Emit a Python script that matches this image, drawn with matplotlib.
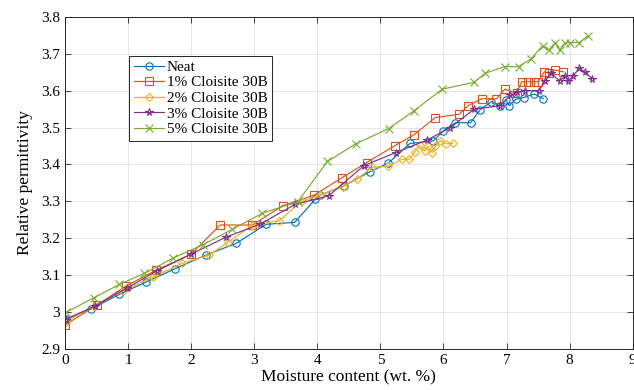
import matplotlib
matplotlib.use("Agg")
import matplotlib.pyplot as plt

plt.rcParams["font.family"] = ["Liberation Serif", "DejaVu Serif"]

# Neat
neat_x = [0.01, 0.42, 0.86, 1.29, 1.75, 2.24, 2.71, 3.19, 3.64, 3.97, 4.05, 4.42, 4.83,
          5.12, 5.47, 5.84, 5.99, 6.19, 6.43, 6.58, 6.76, 6.89, 6.99, 7.04, 7.15, 7.27,
          7.44, 7.58]
neat_y = [2.981, 3.009, 3.048, 3.082, 3.118, 3.155, 3.186, 3.238, 3.243, 3.306, 3.317,
          3.342, 3.380, 3.403, 3.457, 3.464, 3.490, 3.513, 3.513, 3.548, 3.570, 3.559,
          3.575, 3.559, 3.577, 3.581, 3.591, 3.578]

# 1% Cloisite 30B
c1_x = [0.0, 0.5, 0.97, 1.45, 2.0, 2.46, 2.97, 3.45, 3.95, 4.39, 4.78, 5.23, 5.53, 5.87,
        6.25, 6.39, 6.61, 6.84, 6.97, 7.16, 7.24, 7.34, 7.43, 7.50, 7.60, 7.67, 7.76,
        7.90]
c1_y = [2.965, 3.019, 3.071, 3.114, 3.157, 3.236, 3.236, 3.288, 3.317, 3.364, 3.405,
        3.451, 3.480, 3.527, 3.536, 3.559, 3.578, 3.578, 3.604, 3.593, 3.624, 3.624,
        3.624, 3.624, 3.651, 3.647, 3.656, 3.651]

# 2% Cloisite 30B
c2_x = [0.01, 0.46, 0.92, 1.40, 1.86, 2.29, 2.58, 2.96, 3.40, 3.75, 4.05, 4.40, 4.63,
        4.86, 5.12, 5.34, 5.46, 5.55, 5.62, 5.70, 5.76, 5.82, 5.87, 5.95, 6.04, 6.15]
c2_y = [2.974, 3.017, 3.057, 3.096, 3.132, 3.155, 3.189, 3.234, 3.248, 3.300, 3.317,
        3.340, 3.360, 3.392, 3.395, 3.414, 3.414, 3.435, 3.452, 3.436, 3.449, 3.432,
        3.449, 3.464, 3.456, 3.457]

# 3% Cloisite 30B
c3_x = [0.01, 0.48, 0.99, 1.46, 2.0, 2.55, 3.09, 3.65, 4.18, 4.74, 5.24, 5.74, 6.11,
        6.49, 6.90, 7.06, 7.16, 7.29, 7.51, 7.61, 7.71, 7.84, 7.93, 7.98, 8.06, 8.15,
        8.24, 8.36]
c3_y = [2.980, 3.017, 3.066, 3.112, 3.157, 3.203, 3.238, 3.292, 3.315, 3.397, 3.432,
        3.466, 3.500, 3.550, 3.559, 3.587, 3.595, 3.600, 3.600, 3.626, 3.647, 3.626,
        3.640, 3.626, 3.640, 3.661, 3.651, 3.632]

# 5% Cloisite 30B
c5_x = [0.01, 0.46, 0.86, 1.26, 1.72, 2.18, 2.65, 3.13, 3.69, 4.16, 4.61, 5.13, 5.53,
        5.98, 6.48, 6.66, 6.97, 7.19, 7.38, 7.57, 7.67, 7.77, 7.84, 7.93, 8.00, 8.15,
        8.29]
c5_y = [2.999, 3.039, 3.075, 3.105, 3.147, 3.182, 3.224, 3.268, 3.299, 3.408, 3.456,
        3.497, 3.545, 3.604, 3.622, 3.647, 3.665, 3.665, 3.685, 3.721, 3.710, 3.730,
        3.710, 3.730, 3.730, 3.730, 3.748]

series = [
    (neat_x, neat_y, "Neat", "#0072BD", "o"),
    (c1_x, c1_y, "1% Cloisite 30B", "#D95319", "s"),
    (c2_x, c2_y, "2% Cloisite 30B", "#EDB120", "D"),
    (c3_x, c3_y, "3% Cloisite 30B", "#7E2F8E", "*"),
    (c5_x, c5_y, "5% Cloisite 30B", "#77AC30", "x"),
]

fig = plt.figure(figsize=(6.34, 3.9), dpi=100)
ax = fig.add_axes([0.1025, 0.105, 0.8955, 0.852])

for x, y, label, color, marker in series:
    ms = 4.2 if marker == "D" else 5.3
    ax.plot(x, y, color=color, marker=marker, markersize=ms, linewidth=0.85,
            markerfacecolor="none", markeredgewidth=0.8, label=label)

ax.set_xlim(0, 9)
ax.set_ylim(2.9, 3.8)
ax.set_xticks(range(10))
ax.set_yticks([2.9, 3.0, 3.1, 3.2, 3.3, 3.4, 3.5, 3.6, 3.7, 3.8])
ax.set_yticklabels(["2.9", "3", "3.1", "3.2", "3.3", "3.4", "3.5", "3.6", "3.7", "3.8"])
ax.tick_params(direction="in", top=True, right=True, labelsize=11, color="#262626",
               length=4, width=0.6)
ax.grid(True, color="#e6e6e6", linewidth=0.7)
ax.set_axisbelow(True)
for s in ax.spines.values():
    s.set_color("#262626")
    s.set_linewidth(0.7)

ax.set_xlabel("Moisture content (wt. %)", fontsize=12.5, labelpad=2)
ax.set_ylabel("Relative permittivity", fontsize=12.5, labelpad=6)

leg = ax.legend(loc="upper left", bbox_to_anchor=(0.113, 0.883), fontsize=11,
                handlelength=2.0, handletextpad=0.15, labelspacing=0.12,
                borderpad=0.3, borderaxespad=0, fancybox=False, framealpha=1)
leg.get_frame().set_edgecolor("#262626")
leg.get_frame().set_linewidth(0.7)

fig.savefig("out.png", dpi=100)
